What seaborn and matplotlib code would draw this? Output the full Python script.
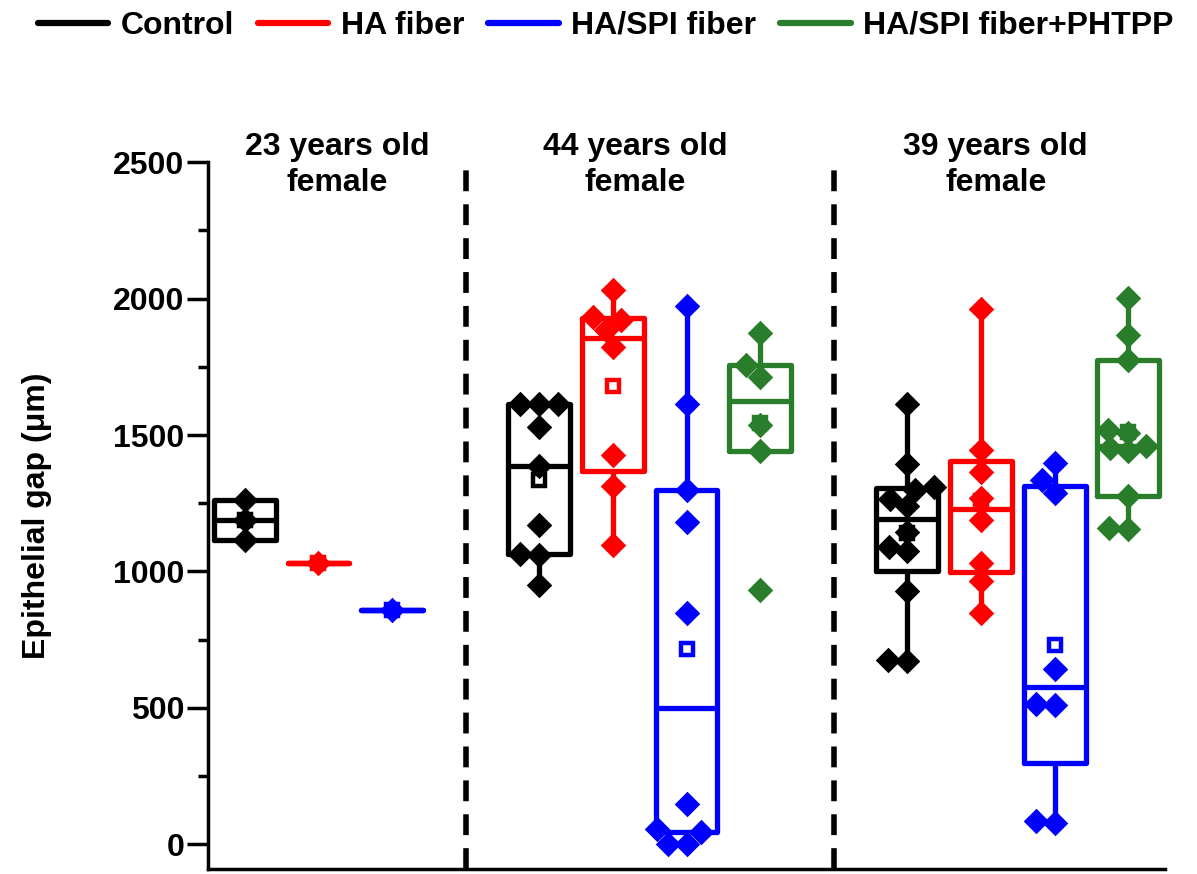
import numpy as np
import pandas as pd
import matplotlib
matplotlib.use("Agg")
import matplotlib.pyplot as plt
import matplotlib.cbook as mcbook
from matplotlib.lines import Line2D
from matplotlib.ticker import AutoMinorLocator
import seaborn as sns

# ---------------- data ----------------
conditions = ["Control", "HA fiber", "HA/SPI fiber", "HA/SPI fiber+PHTPP"]
colors = ["#000000", "#FF0000", "#0000FF", "#2A7D2A"]
ages = ["23", "44", "39"]
group_titles = ["23 years old\nfemale", "44 years old\nfemale", "39 years old\nfemale"]

g23_control = [1262, 1188, 1115]
g23_ha = [1030]
g23_spi = [860]

g44_control = [1615, 1615, 1612, 1530, 1385, 1170, 1065, 1060, 950]
g44_ha = [2031, 1934, 1922, 1885, 1824, 1427, 1312, 1098]
g44_spi = [1973, 1614, 1300, 1180, 848, 150, 55, 44, 2, 0]
g44_phtpp = [1875, 1757, 1714, 1537, 1440, 933]

g39_control = [1614, 1395, 1310, 1300, 1265, 1240, 1145, 1090, 1075, 928, 677, 672]
g39_ha = [1961, 1446, 1366, 1269, 1190, 1031, 964, 848]
g39_spi = [1397, 1336, 1287, 641, 515, 510, 85, 80]
g39_phtpp = [2001, 1867, 1775, 1519, 1507, 1458, 1453, 1440, 1275, 1159, 1155]

yticks = [0, 500, 1000, 1500, 2000, 2500]
ylabel = "Epithelial gap (\u03bcm)"

values = {
    ("23", "Control"): g23_control,
    ("23", "HA fiber"): g23_ha,
    ("23", "HA/SPI fiber"): g23_spi,
    ("44", "Control"): g44_control,
    ("44", "HA fiber"): g44_ha,
    ("44", "HA/SPI fiber"): g44_spi,
    ("44", "HA/SPI fiber+PHTPP"): g44_phtpp,
    ("39", "Control"): g39_control,
    ("39", "HA fiber"): g39_ha,
    ("39", "HA/SPI fiber"): g39_spi,
    ("39", "HA/SPI fiber+PHTPP"): g39_phtpp,
}

# ---------------- tidy table + slot order ----------------
rows, order, seps = [], [], []
for gi, age in enumerate(ages):
    for cond in conditions:
        key = (age, cond)
        if key in values:
            slot = f"{age}|{cond}"
            order.append(slot)
            rows += [dict(slot=slot, cond=cond, value=v) for v in values[key]]
    if gi < len(ages) - 1:
        seps.append(f"sep{gi}")
        order.append(f"sep{gi}")
df = pd.DataFrame(rows)

# ---------------- quartiles as in the original software (median-excluded halves) ----------------
_orig_stats = mcbook.boxplot_stats


def _hinge_stats(X, whis=1.5, bootstrap=None, labels=None, autorange=False):
    stats = _orig_stats(X, whis=whis, bootstrap=bootstrap, labels=labels, autorange=autorange)
    arrays = X if isinstance(X, (list, tuple)) else [np.asarray(X)]
    for st, arr in zip(stats, arrays):
        x = np.sort(np.asarray(arr, float).ravel())
        n = len(x)
        h = n // 2
        lo, hi = (x[:h], x[n - h:]) if n > 1 else (x, x)
        q1, q3 = float(np.median(lo)), float(np.median(hi))
        iqr = q3 - q1
        lof, hif = q1 - whis * iqr, q3 + whis * iqr
        inside = x[(x >= lof) & (x <= hif)]
        st.update(q1=q1, q3=q3, iqr=iqr,
                  whislo=min(inside.min(), q1), whishi=max(inside.max(), q3),
                  fliers=x[(x < lof) | (x > hif)])
    return stats


mcbook.boxplot_stats = _hinge_stats

# ---------------- style ----------------
sns.set_theme(style="ticks")
plt.rcParams["font.family"] = ["Liberation Sans", "DejaVu Sans"]
plt.rcParams["font.weight"] = "bold"
plt.rcParams["axes.labelweight"] = "bold"
plt.rcParams["text.color"] = "black"
plt.rcParams["axes.labelcolor"] = "black"
plt.rcParams["ytick.color"] = "black"
plt.rcParams["xtick.color"] = "black"
plt.rcParams["axes.edgecolor"] = "black"

fig = plt.figure(figsize=(11.97, 8.74), dpi=100)
ax = fig.add_axes([0.1738, 0.0057, 0.7995, 0.8089])

for cond, col in zip(conditions, colors):
    sub = df[df["cond"] == cond]
    sns.boxplot(data=sub, x="slot", y="value", order=order, color=col, fill=False,
                width=0.84, linewidth=3.8, whis=1.5, showcaps=False, showfliers=False,
                showmeans=True,
                meanprops=dict(marker="s", markersize=8, markerfacecolor="white",
                               markeredgecolor=col, markeredgewidth=3.2),
                ax=ax)
for cond, col in zip(conditions, colors):
    sub = df[df["cond"] == cond]
    sns.swarmplot(data=sub, x="slot", y="value", order=order, color=col, marker="D",
                  size=13, linewidth=0, ax=ax, zorder=4)

for s in seps:
    ax.axvline(order.index(s), color="black", lw=4, linestyle=(0, (3.75, 2.35)), zorder=1)

ax.set_xlim(-0.5, len(order) - 0.5)
ax.set_ylim(-90, 2500)
ax.set_yticks(yticks)
ax.yaxis.set_minor_locator(AutoMinorLocator(2))
ax.set_xticks([])
ax.set_xlabel("")
ax.set_ylabel(ylabel, fontsize=23, fontweight="bold", color="black")
ax.yaxis.set_label_coords(-0.163, 0.5)
ax.tick_params(axis="y", which="major", length=15, width=2.5, labelsize=23, pad=2,
               color="black", labelcolor="black")
ax.tick_params(axis="y", which="minor", length=7.5, width=2.5, color="black")
for lab in ax.get_yticklabels():
    lab.set_fontweight("bold")
sns.despine(ax=ax)
for sp in ("left", "bottom"):
    ax.spines[sp].set_linewidth(2.5)
    ax.spines[sp].set_color("black")

title_x = [1.25, 5.3, 10.2]
for tx, title in zip(title_x, group_titles):
    ax.text(tx, 2489, title, ha="center", va="center", fontsize=23, fontweight="bold",
            linespacing=1.25, clip_on=False, color="black")

handles = [Line2D([0], [0], color=c, lw=4.5) for c in colors]
fig.legend(handles, conditions, loc="upper center", bbox_to_anchor=(0.506, 0.995), ncol=4,
           frameon=False, prop=dict(weight="bold", size=23), handlelength=2.2,
           handletextpad=0.4, columnspacing=0.75, borderaxespad=0, borderpad=0.2,
           labelcolor="black")

fig.savefig("out.png", dpi=100)
